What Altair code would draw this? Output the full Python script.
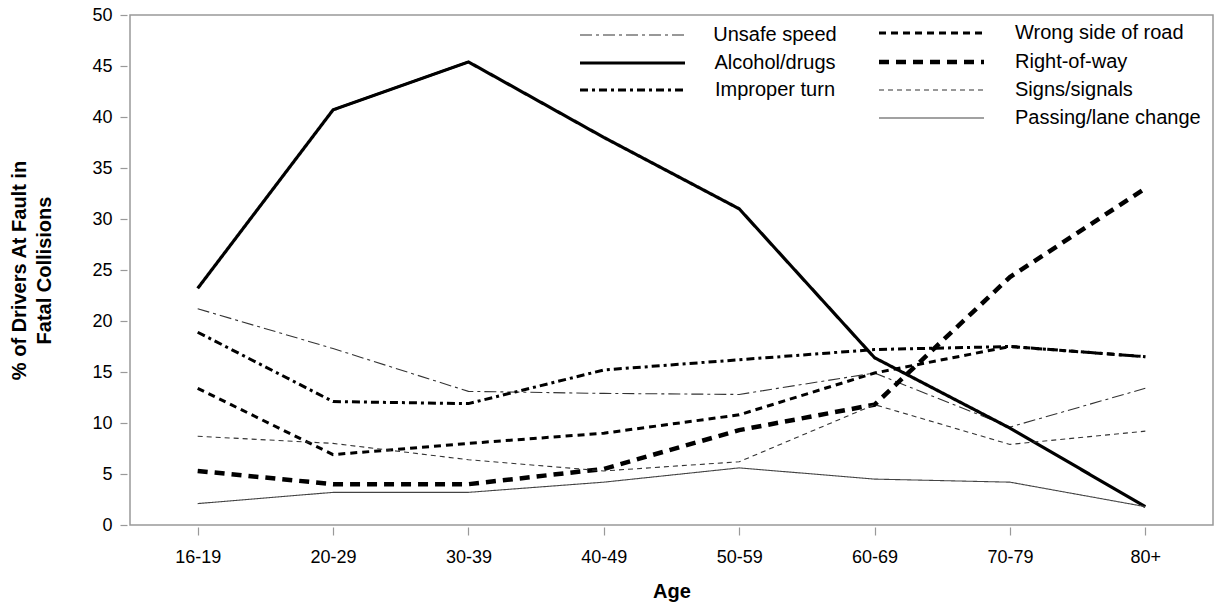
import altair as alt
import pandas as pd

ages = ["16-19", "20-29", "30-39", "40-49", "50-59", "60-69", "70-79", "80+"]

unsafe_speed = [21.2, 17.3, 13.1, 12.9, 12.8, 14.9, 9.6, 13.4]
alcohol_drugs = [23.2, 40.7, 45.4, 38.0, 31.0, 16.4, 9.5, 1.8]
improper_turn = [18.9, 12.1, 11.9, 15.2, 16.2, 17.2, 17.5, 16.5]
wrong_side = [13.4, 6.9, 8.0, 9.0, 10.8, 14.9, 17.5, 16.5]
right_of_way = [5.3, 4.0, 4.0, 5.5, 9.3, 11.8, 24.3, 33.0]
signs_signals = [8.7, 8.0, 6.4, 5.3, 6.2, 11.8, 7.9, 9.2]
passing_lane = [2.1, 3.2, 3.2, 4.2, 5.6, 4.5, 4.2, 1.8]

series_names = ["Unsafe speed", "Alcohol/drugs", "Improper turn",
                "Wrong side of road", "Right-of-way", "Signs/signals",
                "Passing/lane change"]
series_values = [unsafe_speed, alcohol_drugs, improper_turn, wrong_side,
                 right_of_way, signs_signals, passing_lane]

# styles: (dash, width, color)
styles = {
    "Unsafe speed": ([12, 4, 3, 4], 1.1, "#333333"),
    "Alcohol/drugs": ([1, 0], 3.2, "#000000"),
    "Improper turn": ([8, 4, 3, 4], 3.0, "#000000"),
    "Wrong side of road": ([7, 5], 3.0, "#000000"),
    "Right-of-way": ([10, 7], 4.5, "#000000"),
    "Signs/signals": ([5, 4], 1.1, "#333333"),
    "Passing/lane change": ([1, 0], 1.1, "#444444"),
}

rows = []
for name, vals in zip(series_names, series_values):
    for a, v in zip(ages, vals):
        rows.append({"age": a, "series": name, "value": v})
df = pd.DataFrame(rows)

FONT = "Liberation Sans"
W, H = 1083, 510

base = alt.Chart(df)
x_enc = alt.X("age:N", sort=ages, scale=alt.Scale(domain=ages, paddingOuter=0.5),
              axis=alt.Axis(title="Age", labelAngle=0, labelFontSize=18, labelColor="black",
                            labelFont=FONT, titleFont=FONT, titleFontSize=20,
                            titleFontWeight="bold", titleColor="black", titlePadding=15,
                            tickSize=8, tickColor="#999999", tickWidth=1.2, offset=2,
                            domain=False, labelPadding=13))
y_enc = alt.Y("value:Q", scale=alt.Scale(domain=[0, 50], nice=False),
              axis=alt.Axis(title=["% of Drivers At Fault in", "Fatal Collisions"],
                            values=list(range(0, 51, 5)), labelFontSize=18,
                            labelColor="black", labelFont=FONT, titleFont=FONT,
                            titleFontSize=20, titleFontWeight="bold", titleColor="black",
                            titleAngle=270, titleAlign="center", titleBaseline="top",
                            titleX=-118, titleY=255, titleLineHeight=25,
                            tickSize=7, tickColor="#999999", tickWidth=1.2, offset=3,
                            domain=False, labelPadding=8, grid=False))

layers = []
for name in series_names:
    dash, width, color = styles[name]
    layers.append(
        base.transform_filter(alt.datum.series == name)
        .mark_line(strokeDash=dash, strokeWidth=width, color=color, strokeCap="butt")
        .encode(x=x_enc, y=y_enc)
    )

# legend (decoration)
one = pd.DataFrame({"k": [0]})
legend_pos = {
    "Unsafe speed": (0, 20), "Alcohol/drugs": (0, 48), "Improper turn": (0, 75),
    "Wrong side of road": (1, 18), "Right-of-way": (1, 47), "Signs/signals": (1, 75),
    "Passing/lane change": (1, 103),
}
for name in series_names:
    dash, width, color = styles[name]
    col, yy = legend_pos[name]
    x0, x1 = (450, 555) if col == 0 else (749, 854)
    layers.append(
        alt.Chart(one).mark_rule(strokeDash=dash, strokeWidth=width, color=color,
                                 strokeCap="butt")
        .encode(x=alt.value(x0), x2=alt.value(x1), y=alt.value(yy))
    )
    if col == 0:
        layers.append(
            alt.Chart(one).mark_text(text=name, align="center", baseline="middle",
                                     fontSize=20, font=FONT, color="black")
            .encode(x=alt.value(645), y=alt.value(yy))
        )
    else:
        layers.append(
            alt.Chart(one).mark_text(text=name, align="left", baseline="middle",
                                     fontSize=20, font=FONT, color="black")
            .encode(x=alt.value(885), y=alt.value(yy))
        )

chart = alt.layer(*layers).properties(
    width=W, height=H, padding={"left": 9, "top": 6, "right": 5, "bottom": 5},
    background="white"
).configure_view(stroke="#999999", strokeWidth=1.5)

chart.save("out.html", embed_options={"renderer": "svg", "actions": False})
